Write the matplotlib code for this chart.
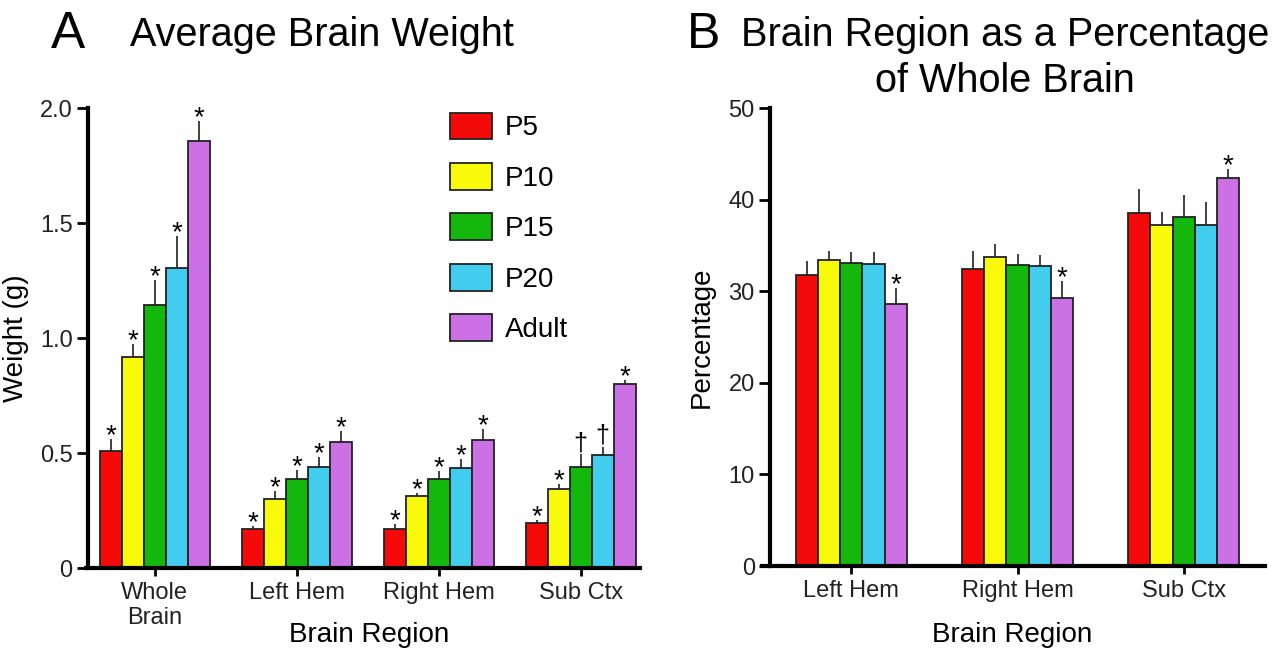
import matplotlib
matplotlib.use("Agg")
import matplotlib.pyplot as plt
import numpy as np

plt.rcParams['font.family'] = ['Liberation Sans', 'DejaVu Sans']

groups = ['P5', 'P10', 'P15', 'P20', 'Adult']
colors = ['#F50A0A', '#F9F90A', '#14B80C', '#42CCEE', '#CC70E6']

# panel A: average brain weight (g)
regions_a = ['Whole\nBrain', 'Left Hem', 'Right Hem', 'Sub Ctx']
weight = [
    [0.509, 0.168, 0.168, 0.198],   # P5
    [0.916, 0.302, 0.314, 0.342],   # P10
    [1.145, 0.387, 0.387, 0.439],   # P15
    [1.306, 0.439, 0.436, 0.493],   # P20
    [1.855, 0.548, 0.558, 0.799],   # Adult
]
weight_err = [
    [0.053, 0.017, 0.023, 0.013],
    [0.058, 0.033, 0.013, 0.025],
    [0.106, 0.038, 0.035, 0.055],
    [0.139, 0.044, 0.038, 0.033],
    [0.087, 0.047, 0.047, 0.019],
]
marks_a = [
    ['*', '*', '*', '*'],
    ['*', '*', '*', '*'],
    ['*', '*', '*', '\u2020'],
    ['*', '*', '*', '\u2020'],
    ['*', '*', '*', '*'],
]

# panel B: region as % of whole brain
regions_b = ['Left Hem', 'Right Hem', 'Sub Ctx']
pct = [
    [31.8, 32.4, 38.5],
    [33.4, 33.7, 37.2],
    [33.1, 32.9, 38.1],
    [33.0, 32.8, 37.2],
    [28.6, 29.3, 42.4],
]
pct_err = [
    [1.5, 2.0, 2.7],
    [1.0, 1.5, 1.4],
    [1.2, 1.2, 2.4],
    [1.3, 1.1, 2.5],
    [1.8, 1.8, 0.9],
]
marks_b = [
    ['', '', ''],
    ['', '', ''],
    ['', '', ''],
    ['', '', ''],
    ['*', '*', '*'],
]

fig = plt.figure(figsize=(12.77, 6.53), dpi=100)
axA = fig.add_axes([0.0689, 0.130, 0.432, 0.7046])
axB = fig.add_axes([0.603, 0.1332, 0.3876, 0.7014])


def draw(ax, regions, vals, errs, marks, bw):
    x = np.arange(len(regions))
    for i, g in enumerate(groups):
        xs = x + (i - 2) * bw
        ax.bar(xs, vals[i], bw, color=colors[i], edgecolor='#222222',
               linewidth=1.3, label=g, zorder=2)
        ax.errorbar(xs, vals[i], yerr=[[0] * len(regions), errs[i]], fmt='none',
                    ecolor='#333333', elinewidth=1.3, capsize=0, zorder=1)
        for j in range(len(regions)):
            m = marks[i][j]
            if not m:
                continue
            top = vals[i][j] + errs[i][j]
            if m == '*':
                ax.annotate(m, (xs[j], top), xytext=(0, -3), textcoords='offset points',
                            ha='center', va='baseline', fontsize=20, annotation_clip=False)
            else:
                ax.annotate(m, (xs[j], top), xytext=(0, 3), textcoords='offset points',
                            ha='center', va='baseline', fontsize=18, annotation_clip=False)
    ax.set_xticks(x)
    ax.set_xticklabels(regions, fontsize=17, color='#222222')
    for s in ['top', 'right']:
        ax.spines[s].set_visible(False)
    for s in ['left', 'bottom']:
        ax.spines[s].set_linewidth(3)
    ax.tick_params(axis='y', direction='out', length=8, width=2, labelsize=17,
                   labelcolor='#222222', pad=3)
    ax.tick_params(axis='x', direction='out', length=6, width=2, pad=4)
    ax.set_xlabel('Brain Region', fontsize=20, va='center')


draw(axA, regions_a, weight, weight_err, marks_a, 0.155)
axA.set_xlim(-0.47, 3.415)
axA.set_ylim(0, 2.0)
axA.set_yticks([0, 0.5, 1.0, 1.5, 2.0])
axA.set_yticklabels(['0', '0.5', '1.0', '1.5', '2.0'])
axA.set_ylabel('Weight (g)', fontsize=20, labelpad=8)
axA.xaxis.set_label_coords(0.51, -0.146)
axA.plot([-0.008, 0], [0, 0], color='black', lw=3, transform=axA.transAxes,
         clip_on=False, solid_capstyle='butt')
axA.legend(loc='upper left', bbox_to_anchor=(0.656, 0.99), frameon=False,
           fontsize=20, handlelength=1.5, handleheight=1.1, labelspacing=0.78,
           handletextpad=0.47, borderpad=0, borderaxespad=0)

draw(axB, regions_b, pct, pct_err, marks_b, 0.133)
axB.set_xlim(-0.49, 2.49)
axB.set_ylim(0, 50)
axB.set_yticks([0, 10, 20, 30, 40, 50])
axB.set_ylabel('Percentage', fontsize=20, labelpad=10)
axB.xaxis.set_label_coords(0.49, -0.151)
axB.plot([-0.02, 0], [0, 0], color='black', lw=3, transform=axB.transAxes,
         clip_on=False, solid_capstyle='butt')

fig.text(0.040, 0.926, 'A', fontsize=37, va='baseline')
fig.text(0.102, 0.9296, 'Average Brain Weight', fontsize=28.5, va='baseline')
fig.text(0.538, 0.926, 'B', fontsize=36, va='baseline')
fig.text(0.787, 0.9296, 'Brain Region as a Percentage', fontsize=28.5, va='baseline', ha='center')
fig.text(0.787, 0.859, 'of Whole Brain', fontsize=28.5, va='baseline', ha='center')

fig.savefig('out.png', dpi=100)
